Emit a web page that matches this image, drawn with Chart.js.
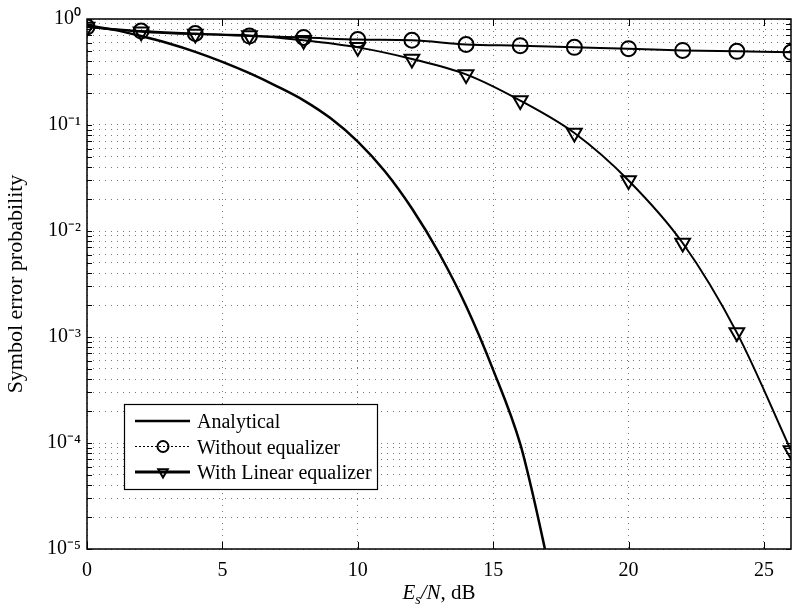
<!DOCTYPE html>
<html>
<head>
<meta charset="utf-8">
<script src="https://cdn.jsdelivr.net/npm/chart.js@4.4.1/dist/chart.umd.min.js"></script>
<style>
  html, body { margin: 0; padding: 0; background: #fff; }
  #wrap { width: 794px; height: 610px; }
</style>
</head>
<body>
<div id="wrap"><canvas id="serChart" width="794" height="610"></canvas></div>
<script>
// --- data ---
const snrAnalytical = [0, 1, 2, 3, 4, 5, 6, 7, 8, 9, 10, 11, 12, 13, 14, 15, 16, 16.5, 17];
const serAnalytical = [0.87, 0.79, 0.69, 0.59, 0.49, 0.394, 0.308, 0.233, 0.171, 0.1156, 0.0697,
                       0.0366, 0.0163, 0.0062, 0.00196, 4.9e-4, 9.8e-5, 3.0e-5, 7.9e-6];

const snrSim = [0, 2, 4, 6, 8, 10, 12, 14, 16, 18, 20, 22, 24, 26];
const serWithout = [0.84, 0.77, 0.73, 0.69, 0.67, 0.64, 0.63, 0.575, 0.56, 0.54, 0.525, 0.505, 0.495, 0.485];
const serLinear = [0.84, 0.76, 0.72, 0.70, 0.63, 0.54, 0.42, 0.30, 0.17, 0.084, 0.030, 0.0077, 0.0011, 8.5e-5];

const seriesLabels = ['Analytical', 'Without equalizer', 'With Linear equalizer'];
const xTickValues = [0, 5, 10, 15, 20, 25];
const decades = [-5, -4, -3, -2, -1, 0];

// --- helpers ---
const SUP = { '-': '\u207B', '0': '\u2070', '1': '\u00B9', '2': '\u00B2', '3': '\u00B3',
              '4': '\u2074', '5': '\u2075' };
function toSup(n) {
    return String(n).split('').map(c => SUP[c] || c).join('');
}

// ticks 1..9 x 10^k, labels only on the decades
const logTickValues = [];
decades.forEach(e => {
    const last = e === decades[decades.length - 1];
    for (let m = 1; m <= (last ? 1 : 9); m++) logTickValues.push(m * Math.pow(10, e));
});

function pts(xs, ys) {
    return xs.map((x, i) => ({ x: x, y: ys[i] }));
}

Chart.defaults.font.family = '"Liberation Serif", "Times New Roman", serif';
Chart.defaults.color = '#000';

// inner tick marks + box round the plot area
const boxAndTicks = {
    id: 'boxAndTicks',
    afterDraw(chart) {
        const { ctx, chartArea: a, scales } = chart;
        ctx.save();
        ctx.strokeStyle = '#000';
        ctx.lineWidth = 1;
        ctx.beginPath();
        scales.y.ticks.forEach(t => {
            const py = Math.round(scales.y.getPixelForValue(t.value)) + 0.5;
            ctx.moveTo(a.left, py); ctx.lineTo(a.left + 5, py);
            ctx.moveTo(a.right, py); ctx.lineTo(a.right - 5, py);
        });
        scales.x.ticks.forEach(t => {
            const px = Math.round(scales.x.getPixelForValue(t.value)) + 0.5;
            ctx.moveTo(px, a.bottom); ctx.lineTo(px, a.bottom - 7);
            ctx.moveTo(px, a.top); ctx.lineTo(px, a.top + 7);
        });
        ctx.stroke();
        ctx.lineWidth = 1.5;
        ctx.strokeRect(a.left, a.top, a.right - a.left, a.bottom - a.top);
        ctx.restore();
    }
};

// legend box in the lower left of the plot
const insideLegend = {
    id: 'insideLegend',
    afterDraw(chart) {
        const { ctx, chartArea: a } = chart;
        const x0 = a.left + 37, y0 = a.bottom - 145, w = 253, h = 85;
        ctx.save();
        ctx.fillStyle = '#fff';
        ctx.fillRect(x0, y0, w, h);
        ctx.strokeStyle = '#000';
        ctx.lineWidth = 1.2;
        ctx.strokeRect(x0 + 0.5, y0 + 0.5, w, h);
        chart.data.datasets.forEach((ds, i) => {
            const yy = y0 + 17 + i * 25.5;
            ctx.beginPath();
            ctx.setLineDash(ds.legendDash || []);
            ctx.lineWidth = ds.legendWidth || ds.borderWidth;
            ctx.moveTo(x0 + 11, yy);
            ctx.lineTo(x0 + 66, yy);
            ctx.stroke();
            ctx.setLineDash([]);
            if (ds.pointRadius) {
                ctx.fillStyle = 'rgba(0,0,0,0)';
                ctx.lineWidth = 2;
                Chart.helpers.drawPoint(ctx, {
                    pointStyle: ds.pointStyle,
                    rotation: ds.pointRotation || 0,
                    radius: 5.5,
                    borderWidth: 2
                }, x0 + 39, yy);
            }
            ctx.fillStyle = '#000';
            ctx.font = '20px "Liberation Serif", serif';
            ctx.textBaseline = 'middle';
            ctx.fillText(ds.label, x0 + 73, yy + 2);
        });
        ctx.restore();
    }
};

// x axis title: E_s/N, dB with italic symbols
const xTitle = {
    id: 'xTitle',
    afterDraw(chart) {
        const { ctx, chartArea: a } = chart;
        const parts = [
            ['E', 'italic 21px "Liberation Serif"', 0],
            ['s', 'italic 14px "Liberation Serif"', 5],
            ['/N', 'italic 21px "Liberation Serif"', 0],
            [', dB', '21px "Liberation Serif"', 0]
        ];
        ctx.save();
        ctx.fillStyle = '#000';
        ctx.textBaseline = 'alphabetic';
        let total = 0;
        parts.forEach(p => { ctx.font = p[1]; total += ctx.measureText(p[0]).width; });
        let x = (a.left + a.right) / 2 - total / 2;
        parts.forEach(p => {
            ctx.font = p[1];
            ctx.fillText(p[0], x, 599 + p[2]);
            x += ctx.measureText(p[0]).width;
        });
        ctx.restore();
    }
};

const ctx = document.getElementById('serChart').getContext('2d');
new Chart(ctx, {
    type: 'line',
    data: {
        datasets: [{
            label: seriesLabels[0],
            data: pts(snrAnalytical, serAnalytical),
            borderColor: '#000',
            borderWidth: 2.5,
            pointRadius: 0,
            cubicInterpolationMode: 'monotone'
        }, {
            label: seriesLabels[1],
            data: pts(snrSim, serWithout),
            borderColor: '#000',
            borderWidth: 2,
            legendDash: [2, 2],
            legendWidth: 1,
            pointStyle: 'circle',
            pointRadius: 7.5,
            pointBorderWidth: 2,
            pointBackgroundColor: 'rgba(0,0,0,0)',
            pointBorderColor: '#000',
            cubicInterpolationMode: 'monotone'
        }, {
            label: seriesLabels[2],
            data: pts(snrSim, serLinear),
            borderColor: '#000',
            borderWidth: 2,
            legendWidth: 3,
            pointStyle: 'triangle',
            pointRotation: 180,
            pointRadius: 8.5,
            pointBorderWidth: 2,
            pointBackgroundColor: 'rgba(0,0,0,0)',
            pointBorderColor: '#000',
            cubicInterpolationMode: 'monotone'
        }]
    },
    options: {
        responsive: false,
        animation: false,
        layout: { autoPadding: false, padding: { top: 19, right: 3, left: 0, bottom: 0 } },
        plugins: {
            legend: { display: false },
            tooltip: { enabled: false }
        },
        scales: {
            x: {
                type: 'linear',
                min: 0,
                max: 26,
                afterBuildTicks: (s) => { s.ticks = xTickValues.map(v => ({ value: v })); },
                afterFit: (s) => { s.height = 61; s.paddingRight = 0; s.paddingLeft = 0; },
                ticks: {
                    font: { size: 20 },
                    padding: 10,
                    maxRotation: 0,
                    autoSkip: false,
                    callback: (v) => String(v)
                },
                grid: { color: '#777', lineWidth: 1, drawTicks: false },
                border: { display: false, dash: [1, 5] }
            },
            y: {
                type: 'logarithmic',
                min: 1e-5,
                max: 1,
                afterBuildTicks: (s) => { s.ticks = logTickValues.map(v => ({ value: v })); },
                afterFit: (s) => { s.width = 87; },
                ticks: {
                    font: { size: 20 },
                    padding: 6,
                    autoSkip: false,
                    callback: (v) => {
                        const e = Math.log10(v);
                        return Math.abs(e - Math.round(e)) < 1e-6 ? '10' + toSup(Math.round(e)) : '';
                    }
                },
                grid: { color: '#777', lineWidth: 1, drawTicks: false },
                border: { display: false, dash: [1, 5] },
                title: {
                    display: true,
                    text: 'Symbol error probability',
                    font: { size: 22 },
                    padding: { top: 3, bottom: 0 }
                }
            }
        }
    },
    plugins: [boxAndTicks, insideLegend, xTitle]
});
</script>
</body>
</html>
